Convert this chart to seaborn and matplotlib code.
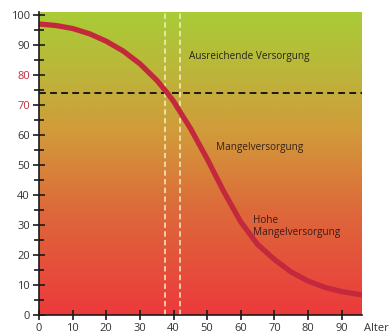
import numpy as np
import pandas as pd
import seaborn as sns
import matplotlib.pyplot as plt
from matplotlib.colors import LinearSegmentedColormap
from matplotlib.ticker import MultipleLocator

# curve
alter = [0, 5, 10, 15, 20, 25, 30, 35, 38, 40, 42, 45, 50, 55, 60, 65, 70, 75, 80, 85, 90, 96]
versorgung = [97, 96.5, 95.5, 93.75, 91.25, 88, 83.75, 78.25, 74.2, 71.25, 67.6, 62.25,
              52, 41, 31, 23.5, 18.5, 14.3, 11.3, 9.2, 7.8, 6.7]
grenze = 74
alter_grenzen = [37.5, 42]
red_ticks = [70, 80]

df = pd.DataFrame({'Alter': alter, 'Versorgung': versorgung})

sns.set_style("ticks")
plt.rcParams['font.family'] = ['Open Sans', 'DejaVu Sans']

fig = plt.figure(figsize=(3.9, 3.33), dpi=100)
ax = fig.add_axes([0.1, 0.054, 0.828, 0.91])

# background gradient red -> orange -> green
cmap = LinearSegmentedColormap.from_list('bg', [(0.0, '#ec3a3c'), (0.35, '#dd6a3a'),
                                                (0.6, '#d29a3a'), (0.8, '#bcb63a'),
                                                (1.0, '#a8cc36')])
grad = np.linspace(0, 1, 256).reshape(-1, 1)
ax.imshow(grad, extent=[0, 96, 0, 101], origin='lower', aspect='auto', cmap=cmap, zorder=0)

sns.lineplot(data=df, x='Alter', y='Versorgung', ax=ax, color='#c4283c', linewidth=3.8,
             zorder=3, solid_capstyle='butt', solid_joinstyle='round')

ax.axhline(grenze, color='#1a1a1a', linestyle=(0, (3.5, 2.2)), linewidth=1.4, zorder=2)
for a in alter_grenzen:
    ax.axvline(a, color='#f6f0c4', linestyle=(0, (3.5, 2.2)), linewidth=1.1, zorder=2)

fs = 7.2
ax.text(44.5, 86, 'Ausreichende Versorgung', fontsize=fs, color='#25251a', va='center')
ax.text(52.5, 56, 'Mangelversorgung', fontsize=fs, color='#33241a', va='center')
ax.text(63.5, 29.5, 'Hohe\nMangelversorgung', fontsize=fs, color='#3a1a1a', va='center',
        linespacing=1.1)

ax.set_xlim(0, 96)
ax.set_ylim(0, 101)
ax.xaxis.set_major_locator(MultipleLocator(10))
ax.yaxis.set_major_locator(MultipleLocator(10))
ax.yaxis.set_minor_locator(MultipleLocator(5))
ax.tick_params(axis='both', which='both', direction='inout', color='#1a1a1a', width=1.2)
ax.tick_params(axis='y', which='major', length=9, labelsize=8, labelcolor='#333333', pad=2)
ax.tick_params(axis='y', which='minor', length=7)
ax.tick_params(axis='x', which='major', length=7, labelsize=8, labelcolor='#333333', pad=2)
for lbl, v in zip(ax.get_yticklabels(), ax.get_yticks()):
    if v in red_ticks:
        lbl.set_color('#b8303f')
ax.set_xlabel('')
ax.set_ylabel('')
ax.text(1.005, -0.045, 'Alter', transform=ax.transAxes, fontsize=8, color='#333333', va='center')

sns.despine(ax=ax)
for s in ['left', 'bottom']:
    ax.spines[s].set_color('#1a1a1a')
    ax.spines[s].set_linewidth(1.2)
    ax.spines[s].set_zorder(5)

fig.savefig('out.png', dpi=100)
